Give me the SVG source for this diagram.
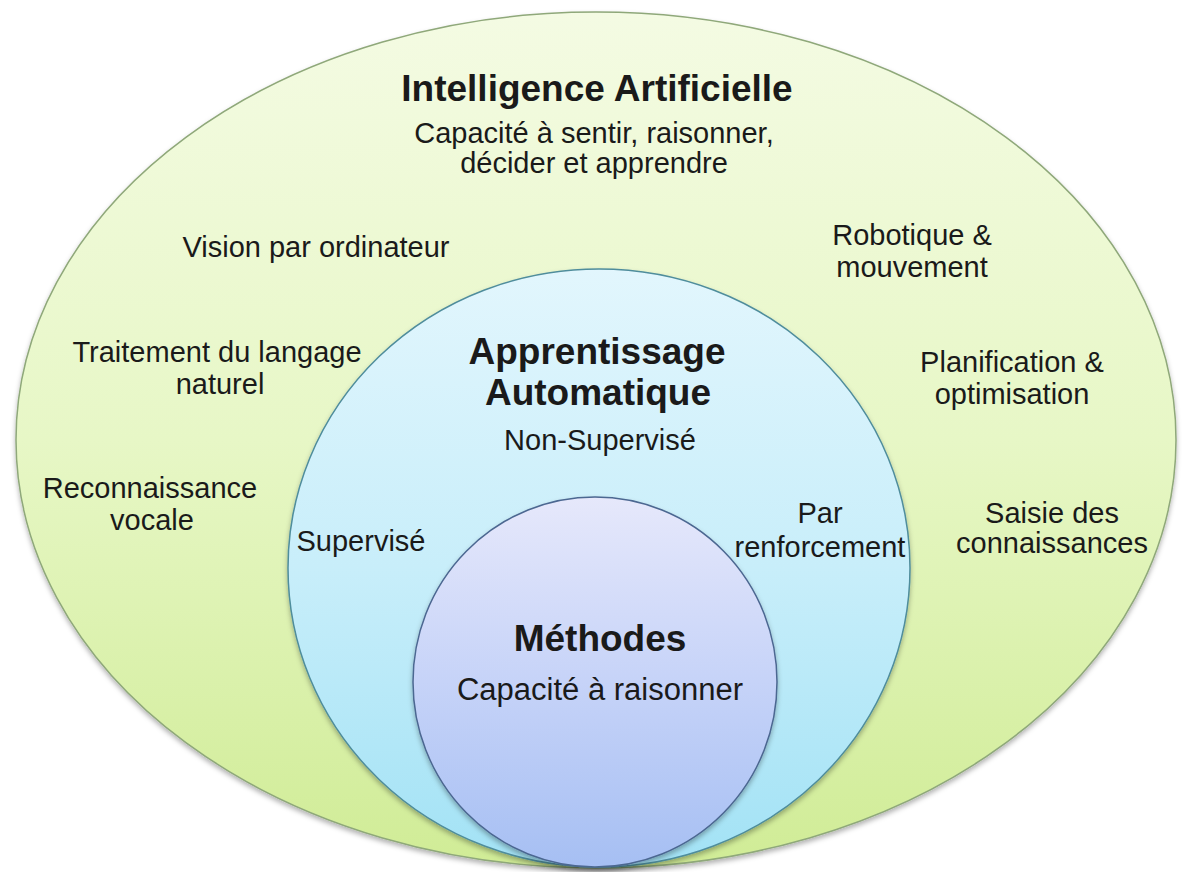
<svg xmlns="http://www.w3.org/2000/svg" width="1186" height="872" viewBox="0 0 1186 872">
  <defs>
    <linearGradient id="gOuter" x1="0" y1="0" x2="0" y2="1">
      <stop offset="0" stop-color="#f4fbe3"/>
      <stop offset="0.5" stop-color="#e7f7c6"/>
      <stop offset="1" stop-color="#d0ec96"/>
    </linearGradient>
    <linearGradient id="gMid" x1="0" y1="0" x2="0" y2="1">
      <stop offset="0" stop-color="#e2f6fd"/>
      <stop offset="0.5" stop-color="#c8eefa"/>
      <stop offset="1" stop-color="#a2e2f5"/>
    </linearGradient>
    <linearGradient id="gInner" x1="0" y1="0" x2="0" y2="1">
      <stop offset="0" stop-color="#e6e8fb"/>
      <stop offset="0.5" stop-color="#c6d3f8"/>
      <stop offset="1" stop-color="#a6bff3"/>
    </linearGradient>
    <filter id="shadow" x="-5%" y="-5%" width="110%" height="112%">
      <feDropShadow dx="0" dy="3" stdDeviation="2.5" flood-color="#000" flood-opacity="0.3"/>
    </filter>
  </defs>
  <style>
    text { font-family: "Liberation Sans", Arial, sans-serif; fill: #1a1a1a; text-anchor: middle; }
    .title { font-weight: bold; font-size: 37px; }
    .label { font-size: 29px; }
    .sub { font-size: 31px; }
  </style>
  <rect width="1186" height="872" fill="#ffffff"/>

  <!-- Outer domain: artificial intelligence -->
  <g id="ia">
    <ellipse cx="596" cy="440" rx="580" ry="428" fill="url(#gOuter)" stroke="#8fa87a" stroke-width="1.5" filter="url(#shadow)"/>
    <text class="title" x="597" y="101">Intelligence Artificielle</text>
    <text class="label" x="594" y="143">Capacité à sentir, raisonner,</text>
    <text class="label" x="594" y="173">décider et apprendre</text>
  </g>

  <!-- Surrounding fields -->
  <g id="vision"><text class="label" x="316" y="257">Vision par ordinateur</text></g>
  <g id="robotique">
    <text class="label" x="912" y="245">Robotique &amp;</text>
    <text class="label" x="912" y="277">mouvement</text>
  </g>
  <g id="langage">
    <text class="label" x="217" y="362">Traitement du langage</text>
    <text class="label" x="220" y="394">naturel</text>
  </g>
  <g id="planification">
    <text class="label" x="1012" y="372">Planification &amp;</text>
    <text class="label" x="1012" y="404">optimisation</text>
  </g>
  <g id="vocale">
    <text class="label" x="150" y="498">Reconnaissance</text>
    <text class="label" x="152" y="530">vocale</text>
  </g>
  <g id="connaissances">
    <text class="label" x="1052" y="523">Saisie des</text>
    <text class="label" x="1052" y="553">connaissances</text>
  </g>

  <!-- Machine learning -->
  <g id="apprentissage">
    <ellipse cx="599" cy="568" rx="311" ry="299" fill="url(#gMid)" stroke="#4f8d9c" stroke-width="1.5" filter="url(#shadow)"/>
    <text class="title" x="597" y="364">Apprentissage</text>
    <text class="title" x="598" y="405">Automatique</text>
    <text class="label" x="600" y="450">Non-Supervisé</text>
    <text class="label" x="361" y="551">Supervisé</text>
    <text class="label" x="820" y="523">Par</text>
    <text class="label" x="820" y="557">renforcement</text>
  </g>

  <!-- Methods -->
  <g id="methodes">
    <ellipse cx="595" cy="682" rx="182" ry="185" fill="url(#gInner)" stroke="#4c6791" stroke-width="1.5" filter="url(#shadow)"/>
    <text class="title" x="600" y="651">Méthodes</text>
    <text class="sub" x="600" y="700">Capacité à raisonner</text>
  </g>

  <g id="connectors"/>
</svg>
